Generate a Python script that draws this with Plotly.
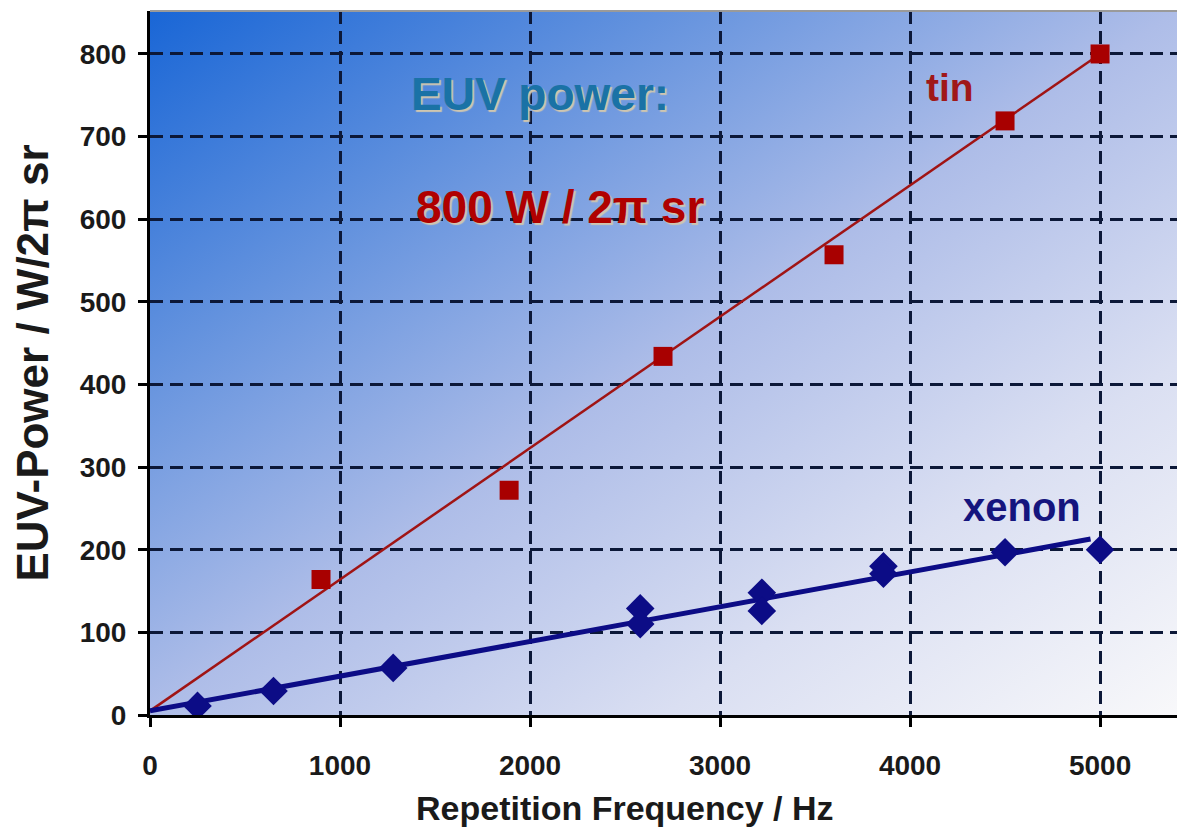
import base64
import plotly.graph_objects as go

# data
tin_x = [900, 1890, 2700, 3600, 4500, 5000]
tin_y = [164, 272, 434, 557, 719, 800]
tin_fit_x = [0, 5000]
tin_fit_y = [5, 800]

xenon_x = [250, 650, 1280, 2580, 2580, 3220, 3220, 3860, 3860, 4500, 5000]
xenon_y = [11, 29, 57, 129, 110, 148, 126, 180, 171, 197, 200]
xenon_fit_x = [0, 4950]
xenon_fit_y = [5, 213]

x_ticks = [0, 1000, 2000, 3000, 4000, 5000]
y_ticks = [0, 100, 200, 300, 400, 500, 600, 700, 800]

# diagonal blue -> white background
svg = """<svg xmlns='http://www.w3.org/2000/svg' width='100' height='100' preserveAspectRatio='none'>
<defs><linearGradient id='g' x1='0' y1='0' x2='1' y2='1'>
<stop offset='0' stop-color='#1966d6'/>
<stop offset='0.25' stop-color='#6392de'/>
<stop offset='0.5' stop-color='#aebde8'/>
<stop offset='0.75' stop-color='#dadff2'/>
<stop offset='1' stop-color='#f8f8fa'/>
</linearGradient></defs>
<rect width='100' height='100' fill='url(#g)'/></svg>"""
bg_src = "data:image/svg+xml;base64," + base64.b64encode(svg.encode()).decode()

FONT = "Liberation Sans, Arial, sans-serif"
grid_col = "#0c1838"

fig = go.Figure()
fig.add_trace(go.Scatter(x=tin_fit_x, y=tin_fit_y, mode="lines",
                         line=dict(color="#a01414", width=2.5), showlegend=False))
fig.add_trace(go.Scatter(x=xenon_fit_x, y=xenon_fit_y, mode="lines",
                         line=dict(color="#0c0c86", width=5), showlegend=False))
fig.add_trace(go.Scatter(x=tin_x, y=tin_y, mode="markers", name="tin",
                         marker=dict(symbol="square", size=19, color="#a80000"),
                         showlegend=False))
fig.add_trace(go.Scatter(x=xenon_x, y=xenon_y, mode="markers", name="xenon",
                         marker=dict(symbol="diamond", size=22, color="#0c0c86"),
                         showlegend=False))

fig.add_annotation(x=2053, y=751, text="EUV power:", showarrow=False,
                   font=dict(family=FONT, size=46, color="#1a72a6", weight="bold",
                             shadow="2px 2px 1px #cfc6b0"))
fig.add_annotation(x=2158, y=615, text="800 W / 2π sr", showarrow=False,
                   font=dict(family=FONT, size=46, color="#b00000", weight="bold",
                             shadow="2px 2px 1px #cfc6b0"))
fig.add_annotation(x=4210, y=759, text="tin", showarrow=False,
                   font=dict(family=FONT, size=39, color="#a01818", weight="bold"))
fig.add_annotation(x=4589, y=252, text="xenon", showarrow=False,
                   font=dict(family=FONT, size=40, color="#15157e", weight="bold"))

# x axis title, centred under 0..5000 like the original
fig.add_annotation(x=2500, xref="x", y=0, yref="paper", yshift=-93,
                   yanchor="middle", text="Repetition Frequency / Hz", showarrow=False,
                   font=dict(family=FONT, size=34, color="#1a1a1a", weight="bold"))

fig.add_shape(type="line", xref="paper", yref="paper", x0=0, x1=1, y0=1, y1=1,
              line=dict(color="#9a9a9a", width=2))

fig.update_layout(
    width=1169, height=820,
    margin=dict(l=142, r=0, t=3, b=113),
    paper_bgcolor="white",
    plot_bgcolor="rgba(0,0,0,0)",
    images=[dict(source=bg_src, xref="paper", yref="paper", x=0, y=1,
                 sizex=1, sizey=1, sizing="stretch", layer="below",
                 xanchor="left", yanchor="top")],
    xaxis=dict(range=[0, 5405], tickvals=x_ticks, showgrid=True,
               gridcolor=grid_col, gridwidth=2.5, griddash="13px,7px",
               zeroline=False, showline=True, linecolor="black", linewidth=3,
               ticks="outside", ticklen=9, tickwidth=3, tickcolor="black",
               ticklabelstandoff=14,
               tickfont=dict(family=FONT, size=28, color="#1a1a1a", weight="bold")),
    yaxis=dict(range=[0, 852], tickvals=y_ticks, showgrid=True,
               gridcolor=grid_col, gridwidth=2.5, griddash="13px,7px",
               zeroline=False, showline=True, linecolor="black", linewidth=3,
               ticks="outside", ticklen=9, tickwidth=3, tickcolor="black",
               ticklabelstandoff=6,
               tickfont=dict(family=FONT, size=28, color="#1a1a1a", weight="bold"),
               title=dict(text="EUV-Power / W/2π sr", standoff=20,
                          font=dict(family=FONT, size=44, color="#1a1a1a", weight="bold"))),
)

fig.write_html("out.html")
